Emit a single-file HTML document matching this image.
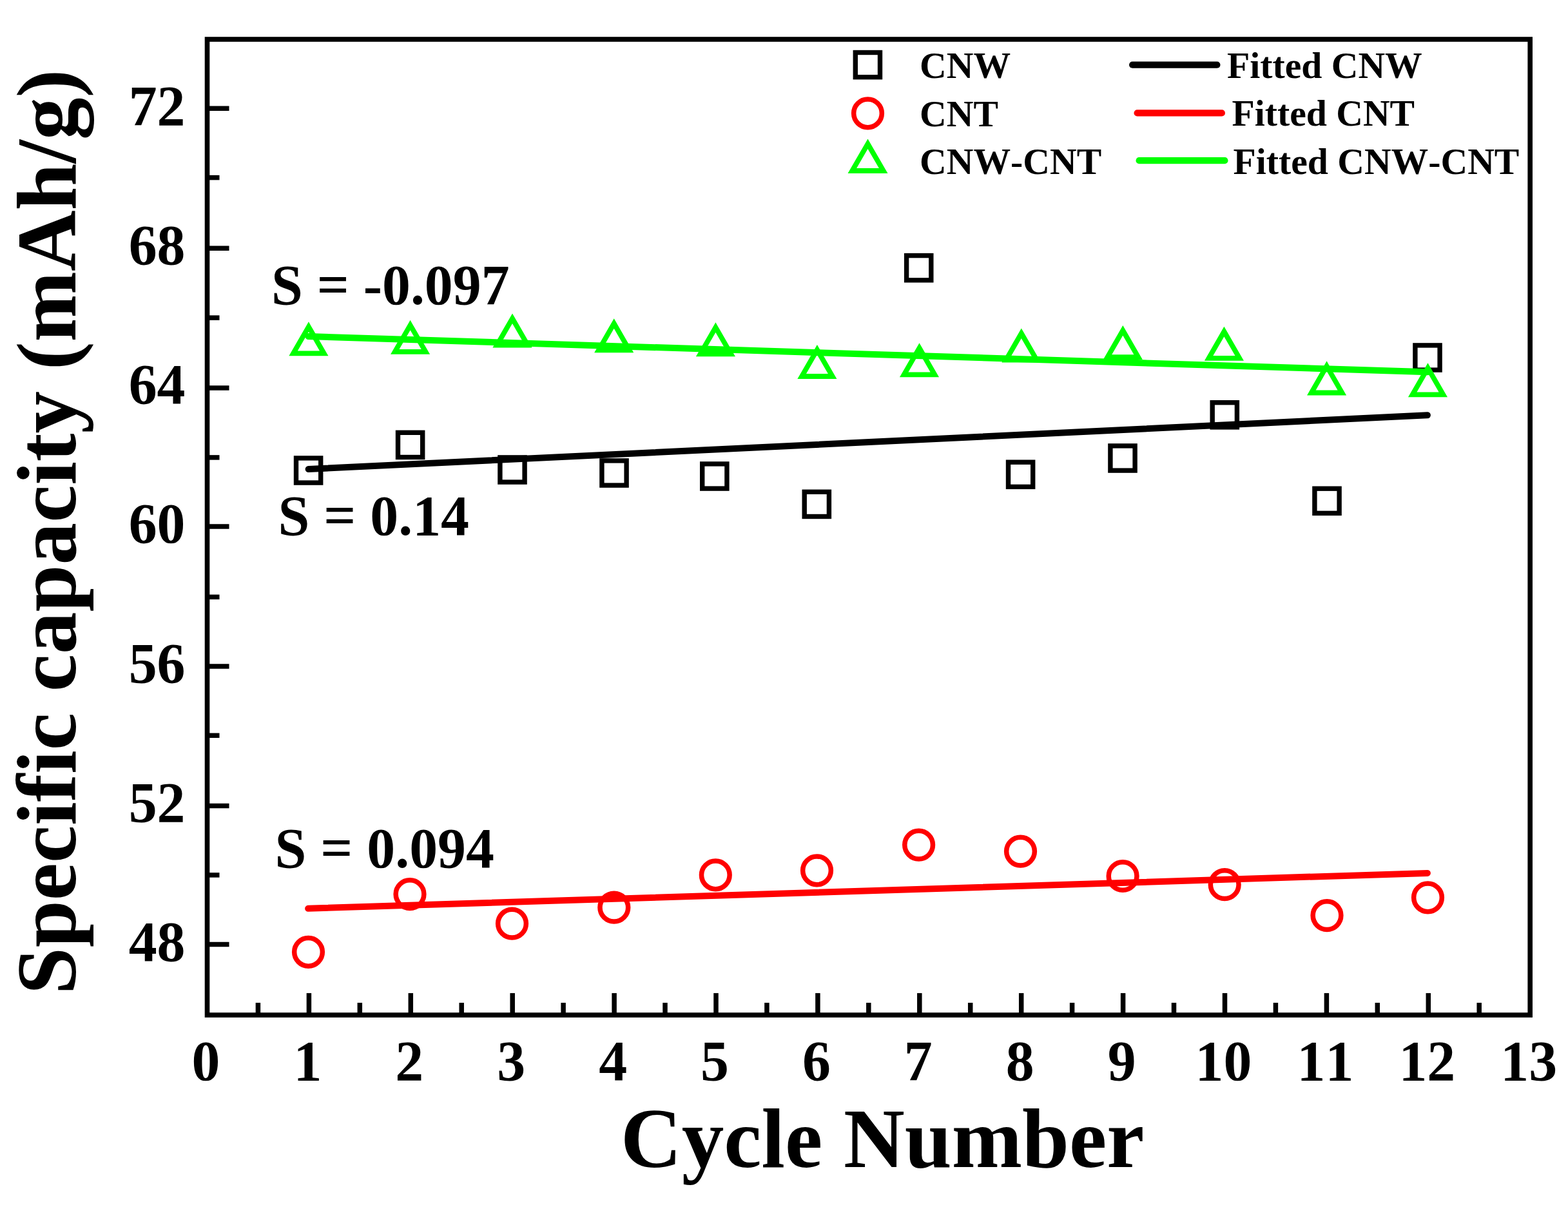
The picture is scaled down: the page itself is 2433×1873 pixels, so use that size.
<!DOCTYPE html>
<html lang="en"><head><meta charset="utf-8"><title>Specific capacity vs Cycle Number</title>
<style>
html,body{margin:0;padding:0;background:#fff;}
body{width:2433px;height:1873px;overflow:hidden;}
svg{display:block;}
text{font-family:"Liberation Serif",serif;font-weight:bold;fill:#000;font-kerning:none;font-variant-ligatures:none;}
.tk{font-size:87.8px;}
.lg{font-size:57.7px;}
.ti{font-size:131.2px;}
</style></head><body>
<svg width="2433" height="1873" viewBox="0 0 2433 1873">
<rect x="0" y="0" width="2433" height="1873" fill="#fff"/>
<g stroke="#000" stroke-width="7.5" fill="none">
<line x1="479.4" y1="1575.1" x2="479.4" y2="1541.1"/>
<line x1="637.3" y1="1575.1" x2="637.3" y2="1541.1"/>
<line x1="795.2" y1="1575.1" x2="795.2" y2="1541.1"/>
<line x1="953.1" y1="1575.1" x2="953.1" y2="1541.1"/>
<line x1="1111.0" y1="1575.1" x2="1111.0" y2="1541.1"/>
<line x1="1268.9" y1="1575.1" x2="1268.9" y2="1541.1"/>
<line x1="1426.8" y1="1575.1" x2="1426.8" y2="1541.1"/>
<line x1="1584.7" y1="1575.1" x2="1584.7" y2="1541.1"/>
<line x1="1742.6" y1="1575.1" x2="1742.6" y2="1541.1"/>
<line x1="1900.5" y1="1575.1" x2="1900.5" y2="1541.1"/>
<line x1="2058.4" y1="1575.1" x2="2058.4" y2="1541.1"/>
<line x1="2216.3" y1="1575.1" x2="2216.3" y2="1541.1"/>
<line x1="400.4" y1="1575.1" x2="400.4" y2="1556.1"/>
<line x1="558.3" y1="1575.1" x2="558.3" y2="1556.1"/>
<line x1="716.2" y1="1575.1" x2="716.2" y2="1556.1"/>
<line x1="874.1" y1="1575.1" x2="874.1" y2="1556.1"/>
<line x1="1032.0" y1="1575.1" x2="1032.0" y2="1556.1"/>
<line x1="1189.9" y1="1575.1" x2="1189.9" y2="1556.1"/>
<line x1="1347.8" y1="1575.1" x2="1347.8" y2="1556.1"/>
<line x1="1505.7" y1="1575.1" x2="1505.7" y2="1556.1"/>
<line x1="1663.6" y1="1575.1" x2="1663.6" y2="1556.1"/>
<line x1="1821.5" y1="1575.1" x2="1821.5" y2="1556.1"/>
<line x1="1979.4" y1="1575.1" x2="1979.4" y2="1556.1"/>
<line x1="2137.3" y1="1575.1" x2="2137.3" y2="1556.1"/>
<line x1="2295.2" y1="1575.1" x2="2295.2" y2="1556.1"/>
<line x1="321.5" y1="1465.4" x2="355.5" y2="1465.4"/>
<line x1="321.5" y1="1250.5" x2="355.5" y2="1250.5"/>
<line x1="321.5" y1="1034.0" x2="355.5" y2="1034.0"/>
<line x1="321.5" y1="817.0" x2="355.5" y2="817.0"/>
<line x1="321.5" y1="602.1" x2="355.5" y2="602.1"/>
<line x1="321.5" y1="385.2" x2="355.5" y2="385.2"/>
<line x1="321.5" y1="168.3" x2="355.5" y2="168.3"/>
<line x1="321.5" y1="1357.9" x2="340.5" y2="1357.9"/>
<line x1="321.5" y1="1141.3" x2="340.5" y2="1141.3"/>
<line x1="321.5" y1="926.4" x2="340.5" y2="926.4"/>
<line x1="321.5" y1="709.9" x2="340.5" y2="709.9"/>
<line x1="321.5" y1="493.1" x2="340.5" y2="493.1"/>
<line x1="321.5" y1="275.6" x2="340.5" y2="275.6"/>
</g>
<rect x="321.5" y="61.0" width="2052.7" height="1514.1" fill="none" stroke="#000" stroke-width="7.6"/>
<g class="tk" text-anchor="end">
<text x="287.5" y="1491.0">48</text>
<text x="287.5" y="1274.8">52</text>
<text x="287.5" y="1058.6">56</text>
<text x="287.5" y="842.4">60</text>
<text x="287.5" y="626.1">64</text>
<text x="287.5" y="409.9">68</text>
<text x="287.5" y="193.7">72</text>
</g>
<g class="tk" text-anchor="middle">
<text x="319.5" y="1675.5">0</text>
<text x="477.4" y="1675.5">1</text>
<text x="635.3" y="1675.5">2</text>
<text x="793.2" y="1675.5">3</text>
<text x="951.1" y="1675.5">4</text>
<text x="1109.0" y="1675.5">5</text>
<text x="1266.9" y="1675.5">6</text>
<text x="1424.8" y="1675.5">7</text>
<text x="1582.7" y="1675.5">8</text>
<text x="1740.6" y="1675.5">9</text>
<text x="1898.5" y="1675.5">10</text>
<text x="2056.4" y="1675.5">11</text>
<text x="2214.3" y="1675.5">12</text>
<text x="2372.2" y="1675.5">13</text>
</g>
<text class="ti" x="963" y="1811.3">Cycle Number</text>
<text class="ti" transform="translate(117.2 1543.2) rotate(-90)">Specific capacity (mAh/g)</text>
<g fill="none" stroke="#000" stroke-width="7.4">
<rect x="459.5" y="710.9" width="38.2" height="38.2"/>
<rect x="617.5" y="671.3" width="38.2" height="38.2"/>
<rect x="775.9" y="709.9" width="38.2" height="38.2"/>
<rect x="933.9" y="714.9" width="38.2" height="38.2"/>
<rect x="1089.7" y="719.9" width="38.2" height="38.2"/>
<rect x="1248.2" y="763.3" width="38.2" height="38.2"/>
<rect x="1406.6" y="396.6" width="38.2" height="38.2"/>
<rect x="1564.5" y="717.2" width="38.2" height="38.2"/>
<rect x="1722.9" y="691.9" width="38.2" height="38.2"/>
<rect x="1881.2" y="624.7" width="38.2" height="38.2"/>
<rect x="2039.9" y="758.2" width="38.2" height="38.2"/>
<rect x="2195.9" y="535.9" width="38.2" height="38.2"/>
</g>
<line x1="478.6" y1="728.0" x2="2214.9" y2="644.3" stroke="#000" stroke-width="10" stroke-linecap="round"/>
<g fill="none" stroke="#ff0000" stroke-width="7.5">
<circle cx="478.5" cy="1477.3" r="21.85"/>
<circle cx="636.0" cy="1387.6" r="21.85"/>
<circle cx="794.5" cy="1433.2" r="21.85"/>
<circle cx="952.8" cy="1408.2" r="21.85"/>
<circle cx="1110.3" cy="1357.8" r="21.85"/>
<circle cx="1267.5" cy="1350.8" r="21.85"/>
<circle cx="1425.6" cy="1311.1" r="21.85"/>
<circle cx="1583.5" cy="1321.1" r="21.85"/>
<circle cx="1742.1" cy="1359.5" r="21.85"/>
<circle cx="1900.2" cy="1372.7" r="21.85"/>
<circle cx="2059.0" cy="1420.6" r="21.85"/>
<circle cx="2215.5" cy="1392.8" r="21.85"/>
</g>
<line x1="478.1" y1="1409.8" x2="2214.9" y2="1354.9" stroke="#ff0000" stroke-width="10" stroke-linecap="round"/>
<g fill="none" stroke="#00ff00" stroke-width="7.8" stroke-linejoin="miter">
<path d="M478.9 507.1L502.7 548.4L455.1 548.4Z"/>
<path d="M636.6 504.6L660.4 545.9L612.8 545.9Z"/>
<path d="M795.0 494.2L818.8 535.5L771.2 535.5Z"/>
<path d="M952.7 502.0L976.5 543.3L928.9 543.3Z"/>
<path d="M1110.4 508.1L1134.2 549.4L1086.6 549.4Z"/>
<path d="M1267.9 542.7L1291.7 584.0L1244.1 584.0Z"/>
<path d="M1426.5 540.0L1450.3 581.4L1402.7 581.4Z"/>
<path d="M1584.8 517.3L1608.6 558.6L1561.0 558.6Z"/>
<path d="M1742.3 512.8L1766.1 554.1L1718.5 554.1Z"/>
<path d="M1899.4 514.5L1923.2 555.9L1875.6 555.9Z"/>
<path d="M2058.6 568.1L2082.4 609.5L2034.8 609.5Z"/>
<path d="M2215.5 571.0L2239.3 612.3L2191.7 612.3Z"/>
</g>
<line x1="478.6" y1="522.0" x2="2214.9" y2="577.3" stroke="#00ff00" stroke-width="10" stroke-linecap="round"/>
<rect x="1327.3" y="81.5" width="38.2" height="38.2" fill="none" stroke="#000" stroke-width="7.4"/>
<circle cx="1346.5" cy="175.8" r="21.85" fill="none" stroke="#ff0000" stroke-width="7.5"/>
<path d="M1346.5 223.2L1370.7 265.0L1322.3 265.0Z" fill="none" stroke="#00ff00" stroke-width="7.8"/>
<g class="lg">
<text x="1427.1" y="120.5">CNW</text>
<text x="1427.1" y="195.5">CNT</text>
<text x="1427.1" y="269.5">CNW-CNT</text>
<text x="1904" y="120.5">Fitted CNW</text>
<text x="1911.5" y="195">Fitted CNT</text>
<text x="1913.5" y="269.5">Fitted CNW-CNT</text>
</g>
<line x1="1757.1" y1="100.7" x2="1888.4" y2="100.7" stroke="#000" stroke-width="10.2" stroke-linecap="round"/>
<line x1="1764.6" y1="175.4" x2="1895.9" y2="175.4" stroke="#ff0000" stroke-width="10.2" stroke-linecap="round"/>
<line x1="1767.6" y1="249.2" x2="1900.4" y2="249.2" stroke="#00ff00" stroke-width="10.2" stroke-linecap="round"/>
<g class="tk">
<text x="421" y="472.1">S = -0.097</text>
<text x="431.6" y="829.6">S = 0.14</text>
<text x="426.6" y="1346.2">S = 0.094</text>
</g>
</svg>
</body></html>
